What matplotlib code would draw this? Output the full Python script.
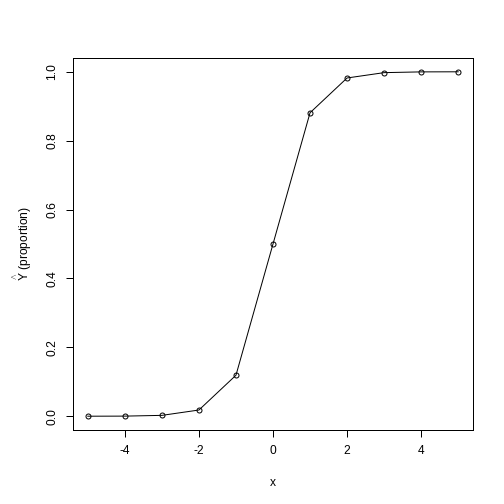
import matplotlib
matplotlib.use("Agg")
import matplotlib.pyplot as plt

# valores
x = [-5, -4, -3, -2, -1, 0, 1, 2, 3, 4, 5]
y = [0.00005, 0.0003, 0.0025, 0.018, 0.119, 0.5, 0.881, 0.982, 0.9975, 0.9997, 0.99995]
xticks = [-4, -2, 0, 2, 4]
yticks = [0.0, 0.2, 0.4, 0.6, 0.8, 1.0]

plt.rcParams['font.family'] = ['Liberation Sans', 'DejaVu Sans']
plt.rcParams['mathtext.fontset'] = 'custom'
plt.rcParams['mathtext.rm'] = 'Liberation Sans'
plt.rcParams['mathtext.it'] = 'Liberation Sans'

fig = plt.figure(figsize=(7, 7), dpi=72)
ax = fig.add_axes([73 / 504, 74 / 504, 400 / 504, 372 / 504])

ax.plot(x, y, color='black', linewidth=1, marker='o', markersize=5,
        markerfacecolor='none', markeredgecolor='black', markeredgewidth=1)

ax.set_xlim(-5.4, 5.4)
ax.set_ylim(-0.04, 1.04)
ax.set_xticks(xticks)
ax.set_xticklabels([str(t) for t in xticks])
ax.set_yticks(yticks)
ax.set_yticklabels([f"{t:.1f}" for t in yticks], rotation=90, va='center')
ax.tick_params(direction='out', length=7, width=1, labelsize=12, pad=8)
for s in ax.spines.values():
    s.set_linewidth(1)

ax.set_xlabel("x", fontsize=12, labelpad=20)
ax.set_ylabel(r"$\overset{\wedge}{\mathrm{Y}}$ (proportion)", fontsize=12, labelpad=12)

fig.savefig("out.png", dpi=72)
